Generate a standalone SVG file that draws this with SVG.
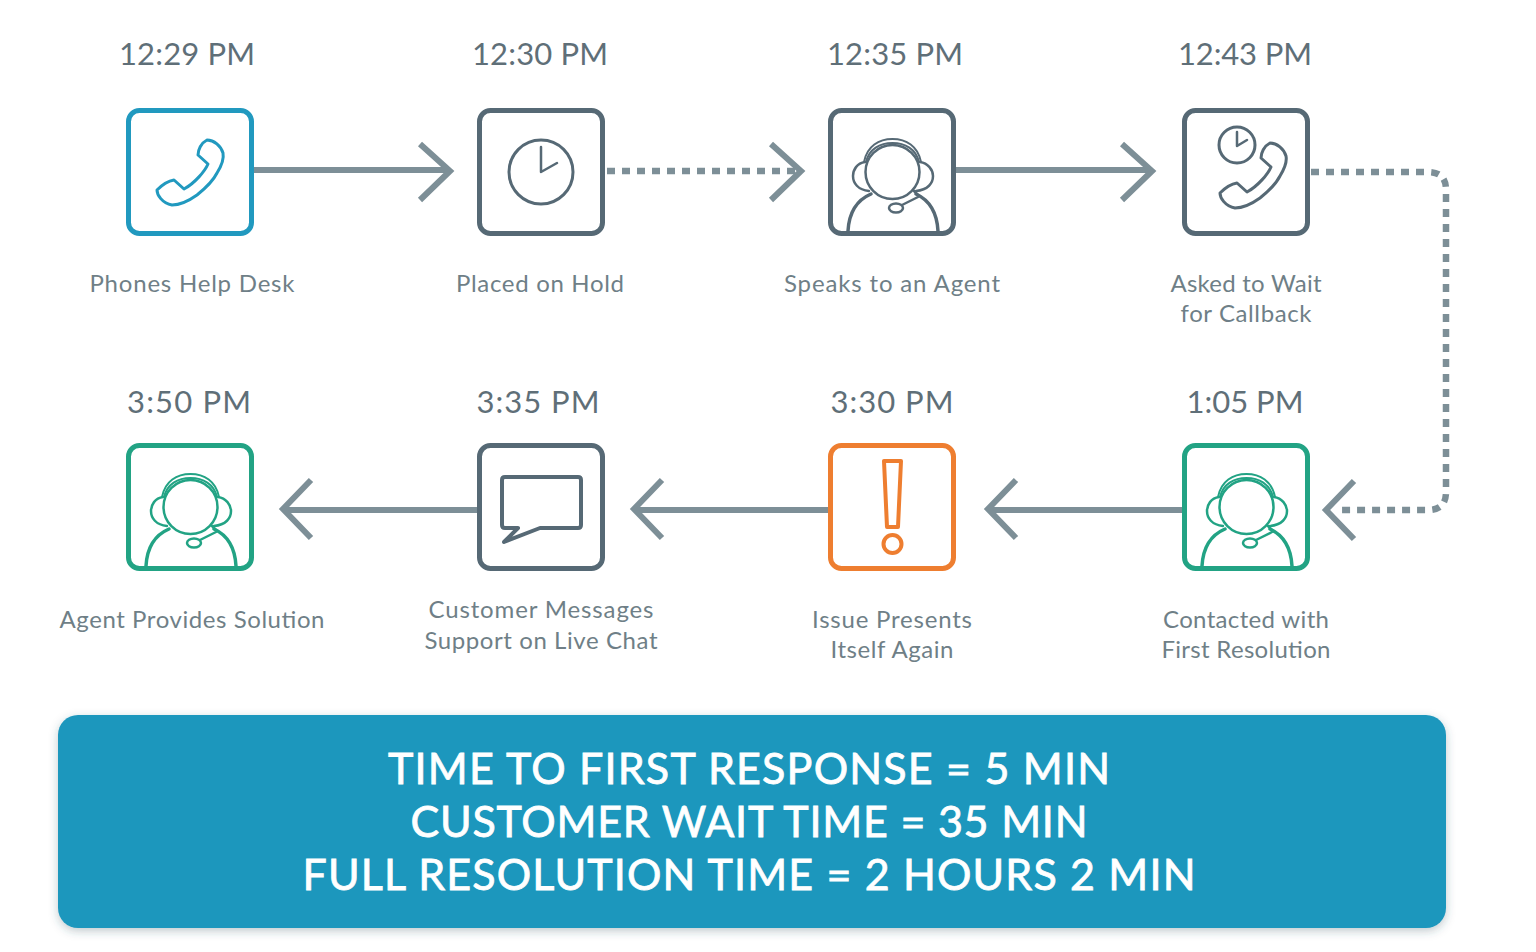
<svg xmlns="http://www.w3.org/2000/svg" width="1536" height="952" viewBox="0 0 1536 952">
<style>
text{font-family:"Lato","Open Sans","Liberation Sans",sans-serif;text-anchor:middle}
.time{font-size:31px;fill:#5f6f78}
.label{font-size:24px;fill:#6f7f87}
.banner{font-size:43px;fill:#fff;stroke:#fff;stroke-width:.8}
.box{fill:#fff;stroke-width:5}
.icon{fill:none;stroke-width:3;stroke-linejoin:round;stroke-linecap:round}
.blue{stroke:#2199bf}.slate{stroke:#566975}.green{stroke:#22a384}.orange{stroke:#ee7e30}
.line{fill:none;stroke:#7d8f97;stroke-width:6}
.dots{fill:none;stroke:#7d8f97;stroke-width:6.5;stroke-dasharray:8 7}
.head{fill:none;stroke:#7d8f97;stroke-width:6}
</style>
<defs>
<filter id="soft" x="-3%" y="-6%" width="106%" height="114%"><feDropShadow dx="0" dy="3" stdDeviation="5" flood-color="#33505c" flood-opacity=".3"/></filter>
<path id="phone" d="M207 140C201 143 198 150 198 155L208 164C205 171 195 183 184 189L174 180C168 181 161 186 157 190C157 195 162 203 172 205C180 205 190 200 197 195C207 187 214 179 217 173C222 165 224 158 223 153C221 146 214 140 207 140Z"/>
<g id="agent">
<ellipse cx="190.500" cy="507" rx="27" ry="27" stroke-width="2.500"/>
<path d="M164 497C167 484 178 478 190.500 478C203 478 214 484 217 497" stroke-width="2"/>
<path d="M162 497C165 481 177 474 190.500 474C204 474 216 481 219 497" stroke-width="2"/>
<path d="M163 497C155 498 151 505 151 511C151 518 156 525 167 526" stroke-width="2.500"/>
<path d="M218 497C226 498 231 505 231 511C231 518 226 525 214 526" stroke-width="2.500"/>
<path d="M146 566C147 548 155 535 169 529M236 566C235 548 227 535 214 529" stroke-width="3.500"/>
<ellipse cx="194" cy="543" rx="7" ry="4.500" stroke-width="2.500"/>
<path d="M200 540L216 532M212 526L217 531" stroke-width="2.500"/>
</g>
<g id="arrowL"><path class="head" d="M28 -29L0 0L28 29"/></g>
</defs>

<g id="connectors">
<path class="line" d="M253 170H448"/><path class="head" d="M420 144L450 171L420 200"/>
<path class="dots" d="M607 171H798"/><path class="head" d="M771 144L801 171L771 200"/>
<path class="line" d="M955 170H1150"/><path class="head" d="M1122 144L1152 171L1122 200"/>
<path class="dots" d="M1311 172H1428Q1446 172 1446 190V492Q1446 510 1428 510H1336"/><use href="#arrowL" x="1326" y="510"/>
<path class="line" d="M1183 510H990"/><use href="#arrowL" x="988" y="509"/>
<path class="line" d="M829 510H636"/><use href="#arrowL" x="634" y="509"/>
<path class="line" d="M478 510H285"/><use href="#arrowL" x="283" y="509"/>
</g>

<g id="node-1">
<text class="time" x="187" y="65" textLength="136">12:29 PM</text>
<rect class="box blue" x="128.500" y="110.500" width="123" height="123" rx="11"/>
<use class="icon blue" href="#phone"/>
<text class="label" x="192" y="292" textLength="205">Phones Help Desk</text>
</g>
<g id="node-2">
<text class="time" x="540" y="65" textLength="136">12:30 PM</text>
<rect class="box slate" x="479.500" y="110.500" width="123" height="123" rx="11"/>
<g class="icon slate"><circle cx="541" cy="172" r="32"/><path d="M541 147V172L557 163" stroke-width="2.500"/></g>
<text class="label" x="540" y="292" textLength="168">Placed on Hold</text>
</g>
<g id="node-3">
<text class="time" x="895" y="65" textLength="136">12:35 PM</text>
<rect class="box slate" x="830.500" y="110.500" width="123" height="123" rx="11"/>
<use class="icon slate" href="#agent" x="702" y="-335"/>
<text class="label" x="892" y="292" textLength="216">Speaks to an Agent</text>
</g>
<g id="node-4">
<text class="time" x="1245" y="65" textLength="134">12:43 PM</text>
<rect class="box slate" x="1184.500" y="110.500" width="123" height="123" rx="11"/>
<use class="icon slate" href="#phone" x="1063" y="3"/>
<g class="icon slate"><circle cx="1237" cy="145" r="18"/><path d="M1237 132V146L1247 140" stroke-width="2.500"/></g>
<text class="label" x="1246" y="292" textLength="151">Asked to Wait</text>
<text class="label" x="1246" y="322" textLength="131">for Callback</text>
</g>
<g id="node-5">
<text class="time" x="1245" y="413" textLength="117">1:05 PM</text>
<rect class="box green" x="1184.500" y="445.500" width="123" height="123" rx="11"/>
<use class="icon green" href="#agent" x="1056"/>
<text class="label" x="1246" y="628" textLength="166">Contacted with</text>
<text class="label" x="1246" y="658" textLength="169">First Resolution</text>
</g>
<g id="node-6">
<text class="time" x="892" y="413" textLength="123">3:30 PM</text>
<rect class="box orange" x="830.500" y="445.500" width="123" height="123" rx="11"/>
<g class="icon orange"><path d="M884 461H901L898 527H887Z" stroke-width="4"/><circle cx="892.500" cy="544" r="9" stroke-width="4"/></g>
<text class="label" x="892" y="628" textLength="160">Issue Presents</text>
<text class="label" x="892" y="658" textLength="123">Itself Again</text>
</g>
<g id="node-7">
<text class="time" x="538" y="413" textLength="123">3:35 PM</text>
<rect class="box slate" x="479.500" y="445.500" width="123" height="123" rx="11"/>
<path class="icon slate" style="stroke-width:4" d="M505 477H578Q581 477 581 480V525Q581 528 578 528H540L504 542L518 528H505Q502 528 502 525V480Q502 477 505 477Z"/>
<text class="label" x="541" y="618" textLength="225">Customer Messages</text>
<text class="label" x="541" y="649" textLength="233">Support on Live Chat</text>
</g>
<g id="node-8">
<text class="time" x="189" y="413" textLength="124">3:50 PM</text>
<rect class="box green" x="128.500" y="445.500" width="123" height="123" rx="11"/>
<use class="icon green" href="#agent"/>
<text class="label" x="192" y="628" textLength="265">Agent Provides Solution</text>
</g>

<g id="summary">
<rect x="58" y="715" width="1388" height="213" rx="20" fill="#1f97bd" filter="url(#soft)"/>
<text class="banner" x="749" y="784" textLength="722">TIME TO FIRST RESPONSE = 5 MIN</text>
<text class="banner" x="749" y="837" textLength="677">CUSTOMER WAIT TIME = 35 MIN</text>
<text class="banner" x="749" y="890" textLength="893">FULL RESOLUTION TIME = 2 HOURS 2 MIN</text>
</g>
</svg>
